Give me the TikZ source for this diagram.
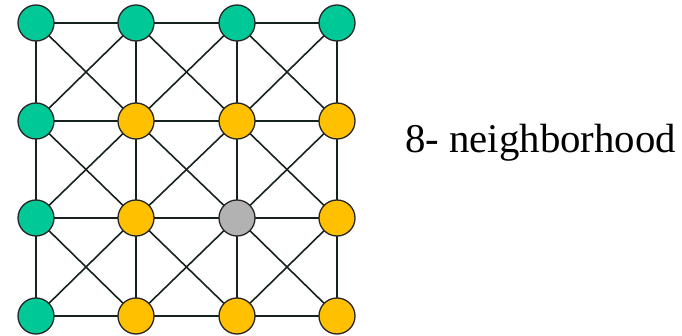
\documentclass[tikz,border=0pt]{standalone}
\usepackage{fontspec}
\setmainfont{Liberation Serif}
\begin{document}
\begin{tikzpicture}[x=1pt,y=-1pt,
  pixel/.style={circle,draw=black!85,line width=1.3pt,minimum size=36pt,inner sep=0pt},
  outer/.style={pixel,fill={rgb,255:red,0;green,200;blue,150}},
  nbr/.style={pixel,fill={rgb,255:red,255;green,192;blue,0}},
  centre/.style={pixel,fill={rgb,255:red,178;green,178;blue,178}},
  link/.style={line width=1.6pt,draw={rgb,255:red,22;green,34;blue,30}}]
\useasboundingbox (0,0) rectangle (682,336);
% column and row positions
\def\cx{{36,136,237,337}}
\def\cy{{23,121,218,316}}
\foreach \j in {0,...,3}
  \foreach \i in {0,...,3}
    \coordinate (p\i\j) at ({\cx[\i]},{\cy[\j]});
% lattice edges: horizontal, vertical and both diagonals of each cell
\foreach \i/\ni in {0/1,1/2,2/3}
  \foreach \j in {0,...,3}
    \draw[link] (p\i\j) -- (p\ni\j);
\foreach \i in {0,...,3}
  \foreach \j/\nj in {0/1,1/2,2/3}
    \draw[link] (p\i\j) -- (p\i\nj);
\foreach \i/\ni in {0/1,1/2,2/3}
  \foreach \j/\nj in {0/1,1/2,2/3}{
    \draw[link] (p\i\j) -- (p\ni\nj);
    \draw[link] (p\ni\j) -- (p\i\nj);
  }
% pixels
\foreach \i in {0,...,3} \node[outer] (n\i0) at (p\i0) {};
\foreach \j in {1,2,3} \node[outer] (n0\j) at (p0\j) {};
\foreach \i/\j in {1/1,2/1,3/1,1/2,3/2,1/3,2/3,3/3}
  \node[nbr] (n\i\j) at (p\i\j) {};
\node[centre] (n22) at (p22) {};
\node[anchor=base west,inner sep=0pt,font=\fontsize{40.8}{48}\selectfont] (label) at (405,152.5) {8- neighborhood};
\end{tikzpicture}
\end{document}
